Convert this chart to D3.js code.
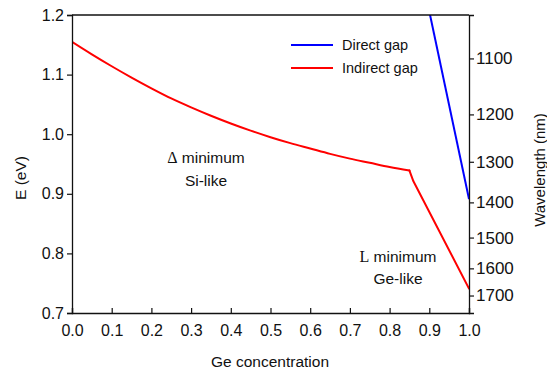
<!DOCTYPE html>
<html>
<head>
<meta charset="utf-8">
<script src="https://cdn.jsdelivr.net/npm/d3@7"></script>
<style>
  body { margin: 0; background: #fff; }
  text { font-family: "Liberation Sans", Arial, sans-serif; fill: #111; }
</style>
</head>
<body>
<div id="chart"></div>
<script>
// Ge concentration vs band gap
// smooth Si-like branch up to the crossover, then the Ge-like branch
const siLikeX = [0.0, 0.05, 0.1, 0.15, 0.2, 0.25, 0.3, 0.35, 0.4, 0.45, 0.5, 0.55, 0.6, 0.65, 0.7, 0.75, 0.8, 0.85];
const siLikeE = [1.155, 1.134, 1.114, 1.095, 1.077, 1.060, 1.045, 1.031, 1.018, 1.006, 0.995, 0.985, 0.976, 0.967, 0.959, 0.952, 0.945, 0.939];
const geLikeX = [0.85, 0.86, 1.0];
const geLikeE = [0.939, 0.921, 0.741];
const directX = [0.88, 1.0];
const directE = [1.269, 0.891];

const xTicks = [0, 0.1, 0.2, 0.3, 0.4, 0.5, 0.6, 0.7, 0.8, 0.9, 1.0];
const yTicks = [0.7, 0.8, 0.9, 1.0, 1.1, 1.2];
const wlTicks = [1100, 1200, 1300, 1400, 1500, 1600, 1700];
const wlMinor = [1050, 1150, 1250, 1350, 1450, 1550, 1650, 1750];

const width = 547;
const height = 374;
const margin = { top: 15, right: 78, bottom: 61, left: 72 };
const iw = width - margin.left - margin.right;
const ih = height - margin.top - margin.bottom;

const svg = d3
  .select("#chart")
  .append("svg")
  .attr("width", width)
  .attr("height", height);

const g = svg.append("g").attr("transform", `translate(${margin.left},${margin.top})`);

const x = d3.scaleLinear().domain([0, 1]).range([0, iw]);
const y = d3.scaleLinear().domain([0.7, 1.2]).range([ih, 0]);
// photon energy <-> wavelength
const nm = (e) => 1239.84 / e;

g.append("clipPath")
  .attr("id", "clip")
  .append("rect")
  .attr("width", iw)
  .attr("height", ih);

const line = d3
  .line()
  .x((d) => x(d[0]))
  .y((d) => y(d[1]));
const smoothLine = d3
  .line()
  .curve(d3.curveMonotoneX)
  .x((d) => x(d[0]))
  .y((d) => y(d[1]));

g.append("path")
  .datum(directX.map((v, i) => [v, directE[i]]))
  .attr("clip-path", "url(#clip)")
  .attr("fill", "none")
  .attr("stroke", "#0000ff")
  .attr("stroke-width", 2)
  .attr("d", line);

g.append("path")
  .datum(siLikeX.map((v, i) => [v, siLikeE[i]]))
  .attr("clip-path", "url(#clip)")
  .attr("fill", "none")
  .attr("stroke", "#ff0000")
  .attr("stroke-width", 2)
  .attr("stroke-linecap", "round")
  .attr("d", smoothLine);

g.append("path")
  .datum(geLikeX.map((v, i) => [v, geLikeE[i]]))
  .attr("clip-path", "url(#clip)")
  .attr("fill", "none")
  .attr("stroke", "#ff0000")
  .attr("stroke-width", 2)
  .attr("stroke-linecap", "round")
  .attr("stroke-linejoin", "round")
  .attr("d", line);

//axes
const fs = "16px";

// bottom: ticks inward
const xAxis = g.append("g").attr("transform", `translate(0,${ih})`);
xAxis.call(
  d3.axisBottom(x).tickValues(d3.range(0.05, 1, 0.1)).tickSize(-3).tickFormat("")
);
xAxis.call(
  d3.axisBottom(x).tickValues(xTicks).tickSize(-5).tickPadding(12).tickFormat(d3.format(".1f"))
);

// left: ticks outward
const yAxis = g.append("g");
yAxis.call(
  d3.axisLeft(y).tickValues(d3.range(0.75, 1.2, 0.1)).tickSize(3).tickFormat("")
);
yAxis.call(
  d3.axisLeft(y).tickValues(yTicks).tickSize(5).tickPadding(3).tickFormat(d3.format(".1f"))
);

// right: wavelength, minor inward, major outward
const rAxis = g.append("g").attr("transform", `translate(${iw},0)`);
rAxis.call(
  d3.axisRight(y).tickValues(wlMinor.map((w) => 1239.84 / w)).tickSize(-4).tickFormat("")
);
rAxis.call(
  d3.axisRight(y)
    .tickValues(wlTicks.map((w) => 1239.84 / w))
    .tickSize(5)
    .tickPadding(2)
    .tickFormat((e) => Math.round(nm(e)))
);

g.selectAll(".domain").attr("stroke", "#111").attr("stroke-width", 1.3);
g.selectAll(".tick line").attr("stroke", "#111").attr("stroke-width", 1.2);
g.selectAll(".tick text").style("font-size", fs).attr("fill", "#111");
rAxis.selectAll(".tick text").style("font-size", "17px");

// top frame line
g.append("line")
  .attr("x1", 0)
  .attr("x2", iw)
  .attr("y1", 0)
  .attr("y2", 0)
  .attr("stroke", "#111")
  .attr("stroke-width", 1.3);

// axis titles
svg.append("text")
  .attr("x", 270)
  .attr("y", 367)
  .attr("text-anchor", "middle")
  .style("font-size", "15.5px")
  .text("Ge concentration");

svg.append("text")
  .attr("transform", "translate(26,178) rotate(-90)")
  .attr("text-anchor", "middle")
  .style("font-size", "15.5px")
  .text("E (eV)");

svg.append("text")
  .attr("transform", "translate(545,170) rotate(-90)")
  .attr("text-anchor", "middle")
  .style("font-size", "15px")
  .text("Wavelength (nm)");

// legend
const legend = svg.append("g").attr("transform", "translate(291,45)");
const legendItems = [
  ["Direct gap", "#0000ff"],
  ["Indirect gap", "#ff0000"],
];
legend
  .selectAll("line")
  .data(legendItems)
  .enter()
  .append("line")
  .attr("x1", 0)
  .attr("x2", 42)
  .attr("y1", (d, i) => i * 23)
  .attr("y2", (d, i) => i * 23)
  .attr("stroke", (d) => d[1])
  .attr("stroke-width", 2);
legend
  .selectAll("text")
  .data(legendItems)
  .enter()
  .append("text")
  .attr("x", 51)
  .attr("y", (d, i) => i * 23 + 5)
  .style("font-size", "14.5px")
  .text((d) => d[0]);

// annotations: [symbol (serif), rest, x, y]
const notes = [
  ["\u0394", " minimum", 206, 163],
  ["", "Si-like", 206, 186],
  ["L", " minimum", 398, 262],
  ["", "Ge-like", 398, 284],
];
const noteText = svg
  .selectAll(".note")
  .data(notes)
  .enter()
  .append("text")
  .attr("class", "note")
  .attr("x", (d) => d[2])
  .attr("y", (d) => d[3])
  .attr("text-anchor", "middle")
  .style("font-size", "15.5px");
noteText
  .append("tspan")
  .style("font-family", "'Liberation Serif', 'Times New Roman', serif")
  .style("font-size", "16px")
  .text((d) => d[0]);
noteText.append("tspan").text((d) => d[1]);
</script>
</body>
</html>
